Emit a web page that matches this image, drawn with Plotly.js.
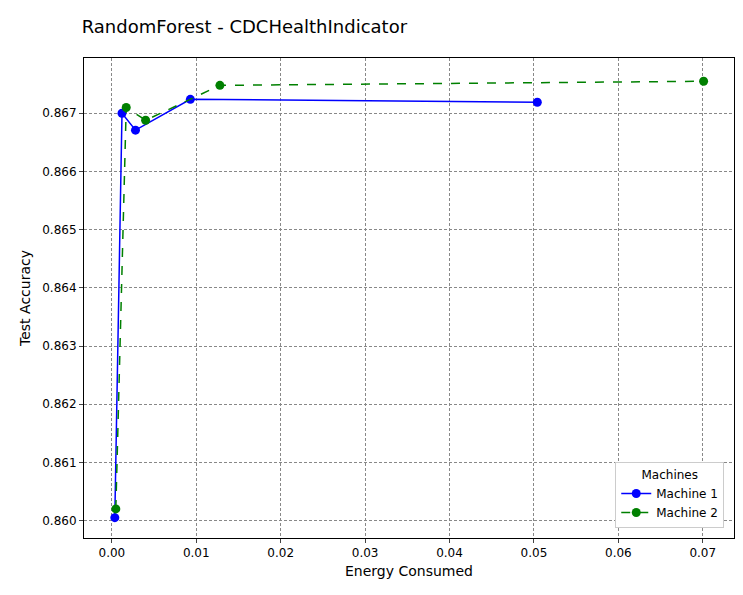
<!DOCTYPE html>
<html>
<head>
<script src="https://cdn.plot.ly/plotly-3.0.1.min.js"></script>
<style>body{margin:0}</style>
</head>
<body>
<div id="plot" style="width:743px;height:595px"></div>
<script>
// energy vs accuracy per machine
var m1Energy = [0.00035, 0.0012, 0.0028, 0.0093, 0.0504];
var m1Acc = [0.86005, 0.8670, 0.86671, 0.86724, 0.86719];
var m2Energy = [0.00047, 0.0017, 0.0040, 0.0128, 0.0701];
var m2Acc = [0.8602, 0.86710, 0.86688, 0.86748, 0.86755];

var axisStyle = {
  showgrid: true, gridcolor: "#888", griddash: "3px,2px", gridwidth: 0.6,
  showline: true, mirror: true, linecolor: "black", ticks: "outside", ticklen: 4,
  zeroline: false, tickfont: {size: 12, color: "black"}
};

var traces = [
  {name: "Machine 1", type: "scatter", mode: "lines+markers", x: m1Energy, y: m1Acc,
   line: {color: "blue", width: 1.5}, marker: {color: "blue", size: 9}},
  {name: "Machine 2", type: "scatter", mode: "lines+markers", x: m2Energy, y: m2Acc,
   line: {color: "green", width: 1.5, dash: "dash"}, marker: {color: "green", size: 9}}
];

var layout = {
  font: {family: "DejaVu Sans", color: "black"},
  title: {text: "RandomForest - CDCHealthIndicator", x: 0.11, xanchor: "left", y: 0.965, font: {size: 18}},
  margin: {l: 84, r: 9, t: 58, b: 57},
  xaxis: Object.assign({title: {text: "Energy Consumed", font: {size: 14}, standoff: 6}, range: [-0.0033, 0.0737],
    dtick: 0.01, tickformat: ".2f"}, axisStyle),
  yaxis: Object.assign({title: {text: "Test Accuracy", font: {size: 14}, standoff: 8}, range: [0.85970, 0.86795],
    dtick: 0.001, tickformat: ".3f"}, axisStyle),
  legend: {title: {text: "Machines", side: "top center", font: {size: 12}}, x: 0.985, y: 0.02, xanchor: "right", yanchor: "bottom",
    bordercolor: "#ccc", borderwidth: 1, bgcolor: "white", font: {size: 12}},
  plot_bgcolor: "white", paper_bgcolor: "white"
};

Plotly.newPlot("plot", traces, layout, {displayModeBar: false});
</script>
</body>
</html>
